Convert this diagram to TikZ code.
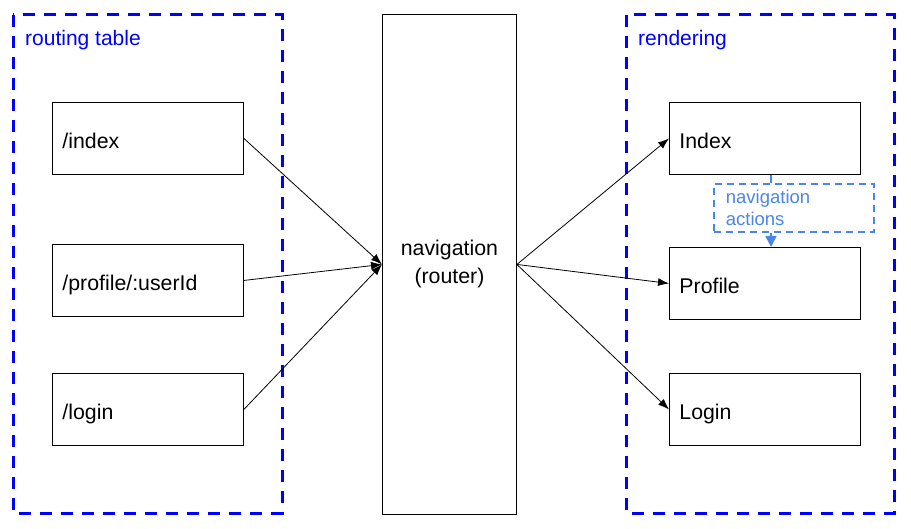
\documentclass[tikz,border=0pt]{standalone}
\usepackage{fontspec}
\setmainfont{Liberation Sans}
\usetikzlibrary{arrows.meta}
\definecolor{actblue}{RGB}{74,134,232}
\tikzset{
  group/.style={draw=blue, line width=3pt, dash pattern=on 12pt off 9pt},
  grouplabel/.style={text=blue, font=\fontsize{21}{25}\selectfont, anchor=west, inner sep=0pt},
  box/.style={draw=black, line width=0.9pt, anchor=north west, minimum width=191pt, minimum height=72pt,
     text width=171pt, align=left, inner xsep=10pt, text height=20pt, text depth=0pt,
     font=\fontsize{21.3}{25}\selectfont},
  router/.style={draw=black, line width=0.9pt, anchor=north west, minimum width=134pt, minimum height=500pt,
     align=center, font=\fontsize{21.3}{28}\selectfont},
  conn/.style={line width=0.8pt, -{Latex[length=11pt,width=8pt]}},
  actbox/.style={draw=actblue, line width=1.7pt, dash pattern=on 7pt off 5pt, anchor=north west,
     minimum width=160pt, minimum height=48pt, text width=136pt, align=left, inner xsep=12pt,
     text=actblue, font=\fontsize{18.5}{22}\selectfont},
  actconn/.style={draw=actblue, line width=1.7pt},
}
\begin{document}
\begin{tikzpicture}[x=1pt,y=-1pt]
\useasboundingbox (0,0) rectangle (911,529);
\draw[group] (13,15) rectangle (282,513);
\draw[group] (626,15) rectangle (894,513);
\node[grouplabel] (lt) at (25,40) {routing table};
\node[grouplabel] (lr) at (638,40) {rendering};

\node[box] (index) at (52,102) {/index};
\node[box] (profile) at (52,244) {/profile/:userId};
\node[box] (login) at (52,373) {/login};

\node[router] (nav) at (382,14) {navigation\\(router)};

\node[box] (rindex) at (669,102) {Index};
\node[box] (rprofile) at (669,247) {Profile};
\node[box] (rlogin) at (669,373) {Login};

\node[actbox] (act) at (713,183) {navigation\\actions};
\coordinate (linkx) at (771,0);

\draw[conn] (index.east) -- (nav.west);
\draw[conn] (profile.east) -- (nav.west);
\draw[conn] (login.east) -- (nav.west);
\draw[conn] (nav.west -| nav.east) -- (rindex.west);
\draw[conn] (nav.west -| nav.east) -- (rprofile.west);
\draw[conn] (nav.west -| nav.east) -- (rlogin.west);

\draw[actconn] (rindex.south -| linkx) -- (act.north -| linkx);
\draw[actconn, -{Triangle[length=11pt,width=11pt]}] (act.south -| linkx) -- (rprofile.north -| linkx);
\end{tikzpicture}
\end{document}
